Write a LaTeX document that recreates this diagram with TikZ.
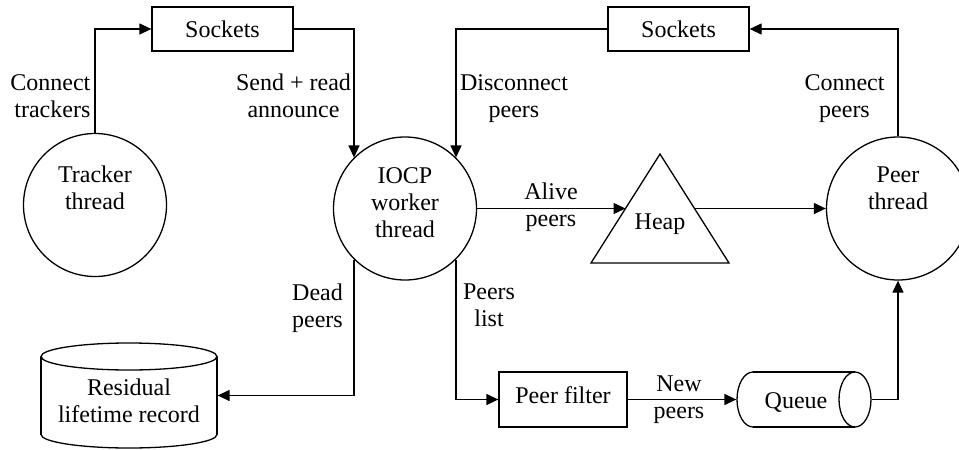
\documentclass[tikz,border=0pt]{standalone}
\usepackage{fontspec}
\setmainfont{Liberation Serif}
\usetikzlibrary{arrows.meta}
\begin{document}
\begin{tikzpicture}[x=1pt,y=-1pt, line width=1.3pt,
  font=\fontsize{24}{27}\selectfont,
  arr/.style={-{Triangle[length=12pt,width=11pt]}},
  circ/.style={draw, circle, minimum size=143pt, inner sep=0pt},
  box/.style={draw, rectangle, inner sep=0pt},
  ghost/.style={rectangle, inner sep=0pt},
  lbl/.style={align=center, inner sep=0pt}]
\path[use as bounding box] (0,0) rectangle (959,450);
\clip (0,0) rectangle (959,450);

% nodes
\node[circ] (tr) at (95,205) {};
\node[lbl] (trt) at (95,187.5) {Tracker\\thread};
\node[box, minimum width=141pt, minimum height=44pt] (ls) at (222.5,29) {Sockets};
\node[box, minimum width=141pt, minimum height=44pt] (rs) at (678.5,29) {Sockets};
\node[circ] (iocp) at (405,208.5) {};
\node[lbl] (iocpt) at (405,203) {IOCP\\worker\\thread};
\node[circ] (pt) at (898,208.5) {};
\node[lbl] (ptt) at (898,188.5) {Peer\\thread};

% heap triangle
\draw[line join=miter] (660,154) -- (591,263) -- (729,263) -- cycle;
\node[lbl] (heap) at (660,224) {Heap};
\coordinate (heapL) at (625.5,208.5);
\coordinate (heapR) at (694.5,208.5);

% peer filter
\node[box, minimum width=128pt, minimum height=55pt, text height=16.4pt, text depth=9.4pt] (pf) at (563,399.5) {Peer filter};

% queue (horizontal cylinder)
\node[ghost, minimum width=134pt, minimum height=55pt] (q) at (804,399.5) {};
\draw (753,372) -- (855,372);
\draw (753,427) -- (855,427);
\draw (855,399.5) ellipse [x radius=16, y radius=27.5];
\draw (753,372) arc [start angle=-90, end angle=-270, x radius=16, y radius=27.5];
\node[lbl] (qt) at (796,402.5) {Queue};

% residual lifetime record (vertical cylinder)
\node[ghost, minimum width=176pt, minimum height=105pt] (res) at (129,395.5) {};
\draw (129,356.5) ellipse [x radius=88, y radius=13.5];
\draw (41,356.5) -- (41,434.5);
\draw (217,356.5) -- (217,434.5);
\draw (41,434.5) arc [start angle=180, end angle=0, x radius=88, y radius=13.5];
\node[lbl] (rest) at (129,400.5) {Residual\\lifetime record};

% connectors
\draw[arr] (tr.north) |- (ls.west);
\draw[arr] (ls.east) -| (iocp.135);
\draw[arr] (rs.west) -| (iocp.45);
\draw[arr] (pt.north) |- (rs.east);
\draw[arr] (iocp.east) -- (heapL);
\draw[arr] (heapR) -- (pt.west);
\draw[arr] (iocp.315) |- (pf.west);
\draw[arr] (pf.east) -- (q.west);
\draw[arr] (q.east) -| (pt.south);
\draw[arr] (iocp.225) |- (res.east);

% labels
\node[lbl, anchor=east, align=right] (l1) at (91,96) {Connect\\trackers};
\node[lbl] (l2) at (293.5,96) {Send + read\\announce};
\node[lbl] (l3) at (514,98.5) {Disconnect\\peers};
\node[lbl] (l4) at (844.5,98.5) {Connect\\peers};
\node[lbl] (l5) at (551,207.5) {Alive\\peers};
\node[lbl] (l6) at (317.5,308) {Dead\\peers};
\node[lbl] (l7) at (489,305) {Peers\\list};
\node[lbl] (l8) at (679,400) {New\\peers};
\end{tikzpicture}
\end{document}
